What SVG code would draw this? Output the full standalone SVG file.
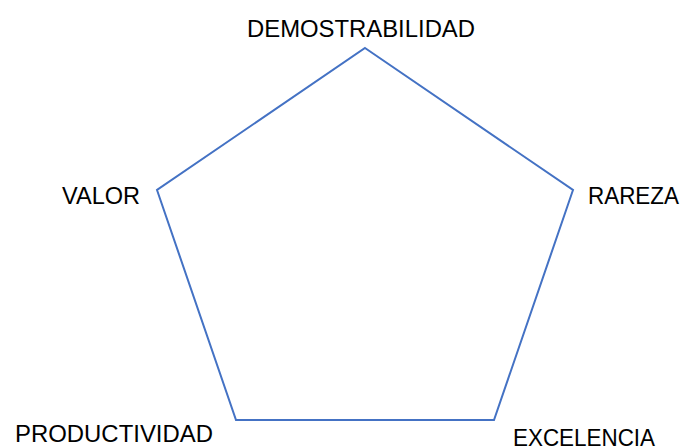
<svg xmlns="http://www.w3.org/2000/svg" width="683" height="448" viewBox="0 0 683 448">
<style>
.lbl{font-family:"Liberation Sans",Arial,sans-serif;font-size:23.5px;fill:#000}
.shape{fill:none;stroke:#4472C4;stroke-width:2}
</style>
<rect width="683" height="448" fill="#fff"/>
<g id="connectors">
<polygon class="shape" points="365,48 573,190 494,420 236,420 157,190"/>
</g>
<g id="demostrabilidad"><text class="lbl" x="247" y="37" textLength="228" lengthAdjust="spacingAndGlyphs">DEMOSTRABILIDAD</text></g>
<g id="valor"><text class="lbl" x="62" y="204" textLength="78" lengthAdjust="spacingAndGlyphs">VALOR</text></g>
<g id="rareza"><text class="lbl" x="588" y="204" textLength="91" lengthAdjust="spacingAndGlyphs">RAREZA</text></g>
<g id="productividad"><text class="lbl" x="15" y="442" textLength="198" lengthAdjust="spacingAndGlyphs">PRODUCTIVIDAD</text></g>
<g id="excelencia"><text class="lbl" x="513" y="446" textLength="142" lengthAdjust="spacingAndGlyphs">EXCELENCIA</text></g>
</svg>
